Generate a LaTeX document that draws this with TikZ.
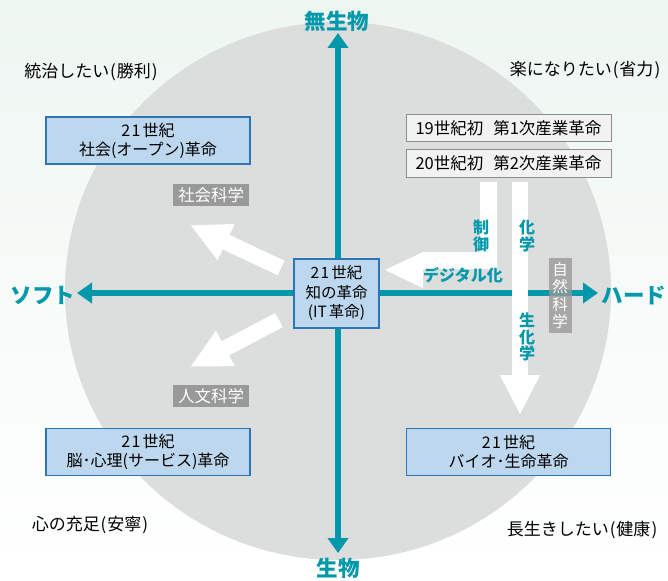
\documentclass[tikz,border=0pt]{standalone}
\usepackage{fontspec}
\setmainfont{Noto Sans CJK JP}
\usetikzlibrary{arrows.meta}
\definecolor{tealc}{RGB}{0,152,170}
\definecolor{bgtop}{RGB}{238,246,242}
\definecolor{circfill}{RGB}{220,221,221}
\definecolor{boxfill}{RGB}{189,215,238}
\definecolor{boxline}{RGB}{46,117,182}
\definecolor{gfill}{RGB}{242,242,242}
\definecolor{gline}{RGB}{140,140,140}
\definecolor{labgray}{RGB}{153,153,153}
\newcommand{\tw}{2\kern1.5pt 1\kern2pt }
\begin{document}
\begin{tikzpicture}[x=1pt,y=-1pt,
  axis/.style={draw=tealc,line width=5.5pt,
    {Triangle[length=15pt,width=20pt]}-{Triangle[length=15pt,width=20pt]}},
  axlab/.style={text=tealc,font=\fontsize{21.5pt}{23pt}\selectfont\bfseries,inner sep=0pt},
  warrow/.style={draw=white,line width=16pt,-{Triangle[length=40pt,width=37pt]}},
  bbox/.style={draw=boxline,fill=boxfill,line width=1.2pt,minimum width=204pt,
    minimum height=47pt,align=center,inner sep=0pt,
    font=\fontsize{16pt}{19pt}\selectfont},
  cbox/.style={draw=boxline,fill=boxfill,line width=1.2pt,minimum width=85pt,
    minimum height=69pt,align=center,inner sep=0pt,
    font=\fontsize{15.5pt}{19.5pt}\selectfont},
  gbox/.style={draw=gline,fill=gfill,line width=1pt,minimum width=205pt,
    minimum height=27pt,inner sep=0pt,font=\fontsize{16.5pt}{18pt}\selectfont},
  glab/.style={fill=labgray,text=white,inner sep=0pt,minimum width=76pt,
    minimum height=22pt,font=\fontsize{16.5pt}{18pt}\selectfont},
  vglab/.style={fill=labgray,fill opacity=0.78,text opacity=1,text=white,
    inner sep=0pt,minimum width=23pt,minimum height=75pt,align=center,
    font=\fontsize{15.5pt}{17.5pt}\selectfont},
  wish/.style={inner sep=0pt,font=\fontsize{17pt}{19pt}\selectfont},
  tlab/.style={text=tealc,inner sep=0pt,align=center,
    font=\fontsize{16pt}{16.5pt}\selectfont\bfseries}]
\useasboundingbox (0,0) rectangle (668,580);
\shade[top color=bgtop,bottom color=white] (0,0) rectangle (668,580);
\fill[circfill] (338,291) ellipse [x radius=273, y radius=269];

% axes
\coordinate (axT) at (338,33);
\coordinate (axB) at (338,553);
\coordinate (axL) at (77,293);
\coordinate (axR) at (598,293);
\draw[axis] (axB) -- (axT);
\draw[axis] (axL) -- (axR);

\node[axlab] (nsb) at (337,21) {無生物};
\node[axlab] (sb) at (338,568) {生物};
\node[axlab] (soft) at (43,295) {ソフト};
\node[axlab] (hard) at (634,295) {ハード};

% white arrows
\coordinate (ulT) at (281,268); \coordinate (ulH) at (190,225);
\coordinate (llT) at (279,320); \coordinate (llH) at (190,367);
\draw[warrow] (ulT) -- (ulH);
\draw[warrow] (llT) -- (llH);
\coordinate (dnT) at (520,182); \coordinate (dnH) at (520,415);
\draw[warrow] (dnT) -- (dnH);
\fill[white] (480,182) -- (497,182) -- (497,269) -- (423,269) -- (423,288)
  -- (385,270) -- (423,252) -- (480,252) -- cycle;

% teal labels
\node[tlab] (seigyo) at (481,236) {制\\御};
\node[tlab] (kagaku) at (527,236) {化\\学};
\node[tlab] (seika) at (527,337) {生\\化\\学};
\node[tlab] (digi) at (463,275) {デジタル化};

% gray labels
\node[glab] (shakai) at (211,195) {社会科学};
\node[glab] (jinbun) at (211,396) {人文科学};
\node[vglab] (shizen) at (560,295.5) {自\\然\\科\\学};

% wishes
\node[wish] (w1) at (91,72) {統治したい\kern1pt(\kern1pt勝利\kern1pt)};
\node[wish] (w2) at (585,70) {楽になりたい\kern1pt(\kern1pt省力\kern1pt)};
\node[wish] (w3) at (90,525) {心の充足\kern1pt(\kern1pt安寧\kern1pt)};
\node[wish] (w4) at (582,530) {長生きしたい\kern1pt(\kern1pt健康\kern1pt)};

% boxes
\node[bbox] (tl) at (148,140.5) {\tw 世紀\\社会(オープン)革命};
\node[bbox] (bl) at (148,452) {\tw 世紀\\脳･心理(サービス)革命};
\node[bbox] (br) at (508.5,452) {\tw 世紀\\バイオ･生命革命};
\node[cbox] (c) at (336.5,293.5) {\tw 世紀\\知の革命\\(IT\kern2pt 革命)};
\node[gbox] (r1) at (508.5,128) {19世紀初\hspace{0.6em}第1次産業革命};
\node[gbox] (r2) at (508.5,163.5) {20世紀初\hspace{0.6em}第2次産業革命};
\end{tikzpicture}
\end{document}
